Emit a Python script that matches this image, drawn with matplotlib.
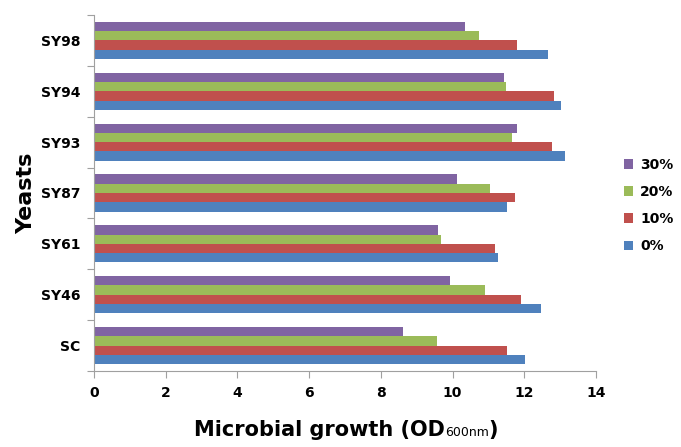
import numpy as np
import matplotlib
matplotlib.use("Agg")
import matplotlib.pyplot as plt
from matplotlib.ticker import FixedLocator, NullFormatter

categories = ["SC", "SY46", "SY61", "SY87", "SY93", "SY94", "SY98"]
series_names = ["0%", "10%", "20%", "30%"]
v0 = [12.01, 12.48, 11.28, 11.53, 13.13, 13.03, 12.65]
v10 = [11.53, 11.91, 11.17, 11.74, 12.76, 12.83, 11.80]
v20 = [9.56, 10.90, 9.67, 11.03, 11.65, 11.49, 10.73]
v30 = [8.62, 9.94, 9.60, 10.12, 11.80, 11.43, 10.34]
x_ticks = [0, 2, 4, 6, 8, 10, 12, 14]

colors = ["#4F81BD", "#C0504D", "#9BBB59", "#8064A2"]

fig = plt.figure(figsize=(6.81, 4.47), dpi=100)
ax = fig.add_axes([94/681, 1-371/447, (596-94)/681, (371-15)/447])

n = len(categories)
y = np.arange(n)
h = 0.73 / 4
handles = []
for i, (vals, name, c) in enumerate(zip([v0, v10, v20, v30], series_names, colors)):
    b = ax.barh(y + (i - 1.5) * h, vals, height=h, color=c, label=name)
    handles.append(b)

ax.set_xlim(0, 14)
ax.set_ylim(-0.5, n - 0.5)
ax.set_xticks(x_ticks)
ax.set_xticklabels([str(t) for t in x_ticks], fontsize=10, fontweight="bold")

ax.yaxis.set_major_locator(FixedLocator(np.arange(-0.5, n, 1.0)))
ax.yaxis.set_major_formatter(NullFormatter())
ax.yaxis.set_minor_locator(FixedLocator(y))
ax.set_yticklabels(categories, minor=True, fontsize=10, fontweight="bold")
ax.tick_params(axis="y", which="minor", length=0, pad=10)
ax.tick_params(axis="y", which="major", length=5, color="#A0A0A0", direction="out")
ax.tick_params(axis="x", length=5, color="#A0A0A0", direction="out", pad=6)

for s in ["top", "right"]:
    ax.spines[s].set_visible(False)
for s in ["left", "bottom"]:
    ax.spines[s].set_color("#A0A0A0")

ax.set_ylabel("Yeasts", fontsize=16, fontweight="bold", labelpad=3)

# x label built from pieces: bold main text, small regular subscript
fig.canvas.draw()
r = fig.canvas.get_renderer()
yb = 1 - 436/447
parts = [("Microbial growth (OD", 15, "bold"),
         ("600nm", 9, "normal"),
         (")", 15, "bold")]
texts = []
for s, fs, fw in parts:
    t = fig.text(0, yb, s, fontsize=fs, fontweight=fw, va="baseline", ha="left")
    texts.append(t)
widths = [t.get_window_extent(r).width for t in texts]
total = sum(widths)
center_px = 346
x0 = center_px - total / 2
for t, w in zip(texts, widths):
    t.set_x(x0 / 681)
    x0 += w

leg = ax.legend(handles[::-1], series_names[::-1], loc="center left",
                bbox_to_anchor=(1.03, 0.465), frameon=False,
                prop={"weight": "bold", "size": 10},
                handlelength=0.7, handleheight=0.7, labelspacing=0.95,
                handletextpad=0.5)

fig.savefig("out.png", dpi=100)
